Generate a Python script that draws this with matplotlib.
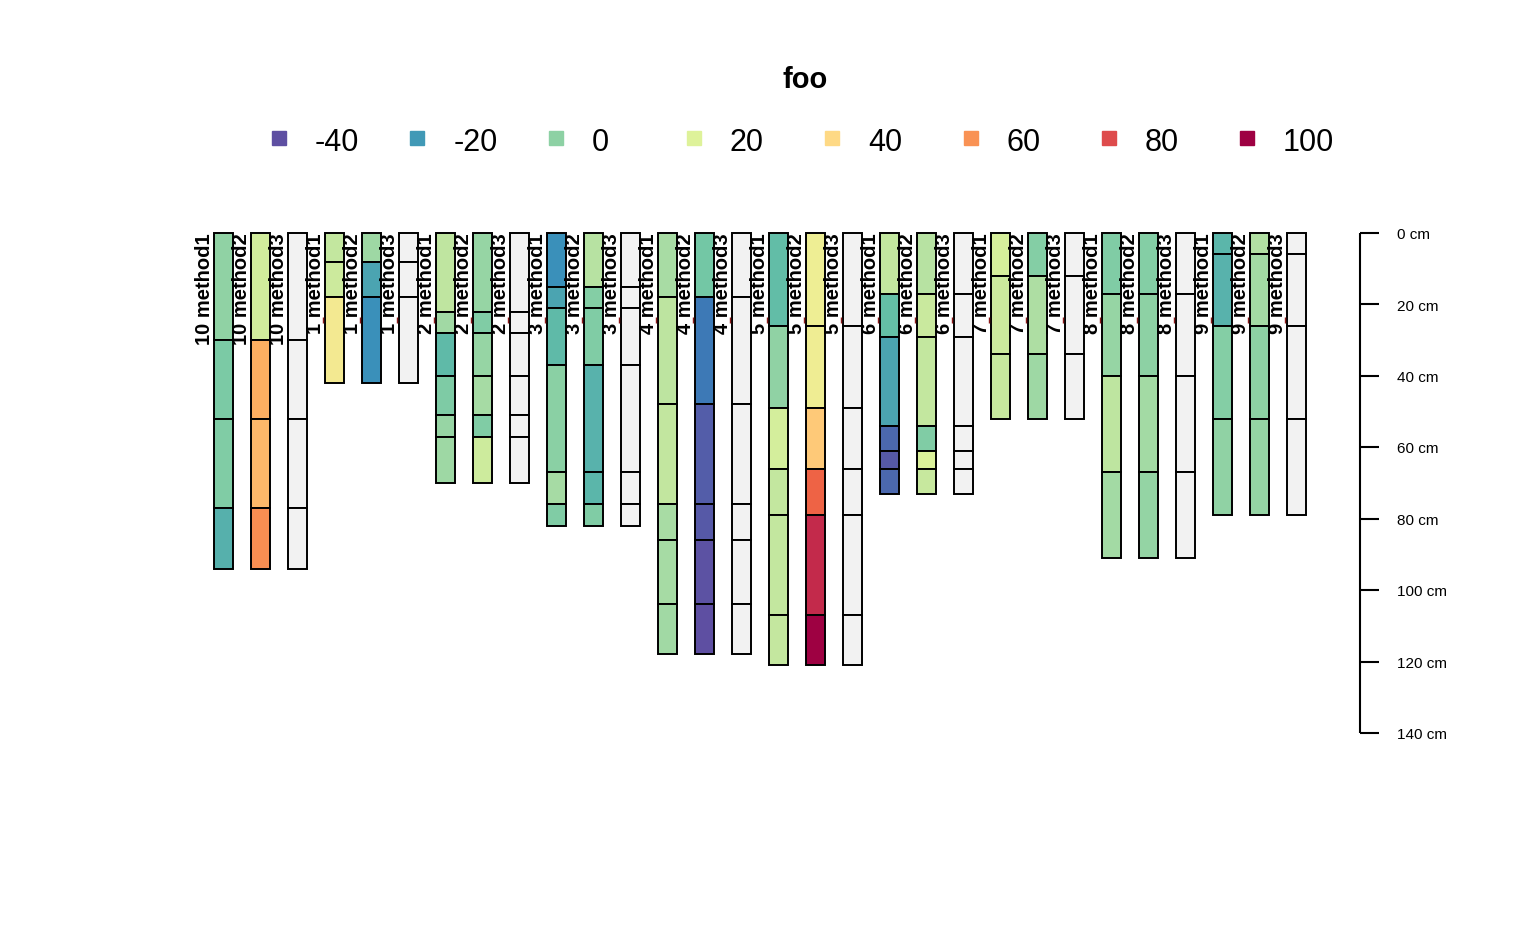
import matplotlib
matplotlib.use("Agg")
import matplotlib.pyplot as plt
from matplotlib.colors import LinearSegmentedColormap, Normalize

plt.rcParams['font.family'] = ['Liberation Sans', 'DejaVu Sans']

# ---------------- data ----------------
sites = ['10', '1', '2', '3', '4', '5', '6', '7', '8', '9']
methods = ['method1', 'method2', 'method3']

depths_10 = [0, 30, 52, 77, 94]
m1_10 = [0.5, -4, -3, -13.5]
m2_10 = [16.7, 53, 50, 61]

depths_1 = [0, 8, 18, 42]
m1_1 = [13, 15.5, 31]
m2_1 = [4, -17, -22]

depths_2 = [0, 22, 28, 40, 51, 57, 70]
m1_2 = [12, 4.5, -11, -3.5, 2.3, 4]
m2_2 = [2, -3, 2, 5.4, -3, 15.7]

depths_3 = [0, 15, 21, 37, 67, 76, 82]
m1_3 = [-22, -17, -11, -0.8, 5.4, -3]
m2_3 = [10, -2, -3, -13, -12, -3]

depths_4 = [0, 18, 48, 76, 86, 104, 118]
m1_4 = [6, 11.5, 12.5, 6, 5.5, 4.5]
m2_4 = [-6, -28.5, -36, -37, -39, -40]

depths_5 = [0, 26, 49, 66, 79, 107, 121]
m1_5 = [-10, 0.5, 17.5, 13, 12.8, 13.3]
m2_5 = [27, 28, 45, 72, 89.5, 100]

depths_6 = [0, 17, 29, 54, 61, 66, 73]
m1_6 = [13, -9.5, -17, -33, -37, -33]
m2_6 = [10, 14.5, 13, -3, 19.5, 14]

depths_7 = [0, 12, 34, 52]
m1_7 = [18, 15.5, 14]
m2_7 = [-2, 7.5, 4]

depths_8 = [0, 17, 40, 67, 91]
m1_8 = [-3, 2, 11.7, 5]
m2_8 = [-2, 0, 5, 1.5]

depths_9 = [0, 6, 26, 52, 79]
m1_9 = [-12, -13, -2, 0.5]
m2_9 = [8.5, 5, 0, 1.8]

legend_values = [-40, -20, 0, 20, 40, 60, 80, 100]
depth_ticks = [0, 20, 40, 60, 80, 100, 120, 140]
title = 'foo'

site_data = {
    '10': (depths_10, m1_10, m2_10), '1': (depths_1, m1_1, m2_1),
    '2': (depths_2, m1_2, m2_2), '3': (depths_3, m1_3, m2_3),
    '4': (depths_4, m1_4, m2_4), '5': (depths_5, m1_5, m2_5),
    '6': (depths_6, m1_6, m2_6), '7': (depths_7, m1_7, m2_7),
    '8': (depths_8, m1_8, m2_8), '9': (depths_9, m1_9, m2_9),
}

# ---------------- colours ----------------
spectral10 = ['#5E4FA2', '#3288BD', '#66C2A5', '#ABDDA4', '#E6F598',
              '#FEE08B', '#FDAE61', '#F46D43', '#D53E4F', '#9E0142']
cmap = LinearSegmentedColormap.from_list('spec', spectral10, N=512)
norm = Normalize(vmin=-40, vmax=100)
na_color = '#F2F2F2'

# ---------------- layout ----------------
W, H = 1536, 950
fig = plt.figure(figsize=(W / 100, H / 100), dpi=100)
ax = fig.add_axes([0, 0, 1, 1])
px_first, px_step = 223.3, 37.0
py_top, px_per_cm = 233.0, 500.0 / 140.0
ax.set_xlim(1 - px_first / px_step, 1 + (W - px_first) / px_step)
ax.set_ylim((H - py_top) / px_per_cm, -py_top / px_per_cm)
ax.axis('off')

pos = 0
for s in sites:
    d, v1, v2 = site_data[s]
    for mi, m in enumerate(methods):
        pos += 1
        vals = v1 if mi == 0 else (v2 if mi == 1 else [None] * (len(d) - 1))
        for top, bot, val in zip(d[:-1], d[1:], vals):
            col = na_color if val is None else cmap(norm(val))
            ax.bar(pos, bot - top, bottom=top, width=0.5, color=col,
                   edgecolor='black', linewidth=1.4)
        ax.text(pos - 0.5, 0, f'{s} {m}', rotation=90, ha='center', va='top',
                fontsize=14.5, fontweight='bold')
        if pos > 3:
            ax.vlines(pos - 0.3, 23.5, 25.3, color='#8B1A1A', lw=1)

# depth axis
xa = 1 + (1360 - px_first) / px_step
tick_len = 19 / px_step
ax.vlines(xa, depth_ticks[0], depth_ticks[-1], color='black', lw=1.5)
for t in depth_ticks:
    ax.hlines(t, xa, xa + tick_len, color='black', lw=1.5)
    ax.text(xa + 37 / px_step, t + 0.6, f'{t} cm', ha='left', va='center',
            fontsize=11)

# title
fig.text(805 / W, 1 - 88 / H, title, ha='center', va='baseline',
         fontsize=21, fontweight='bold')

# legend
for k, lv in enumerate(legend_values):
    xs = (279 + k * 138.3) / W
    ax.plot([xs], [1 - 138 / H], marker='s', ms=9.5, color=cmap(norm(lv)),
            transform=fig.transFigure, clip_on=False, linestyle='none')
    fig.text(xs + 36 / W, 1 - 151 / H, str(lv), ha='left', va='baseline',
             fontsize=22)

fig.savefig('out.png', dpi=100)
